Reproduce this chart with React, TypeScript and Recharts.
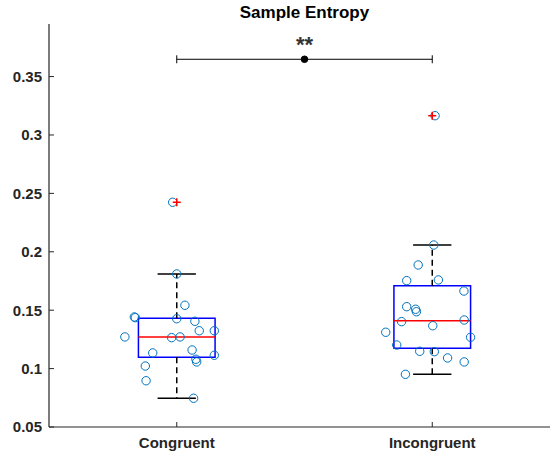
import React from 'react';
import {
  ComposedChart,
  XAxis,
  YAxis,
  Scatter,
  ReferenceArea,
  ReferenceLine,
  ReferenceDot,
} from 'recharts';

// ---- data -------------------------------------------------------------
const categories = ['Congruent', 'Incongruent'];

const congruentValues = [
  0.2424, 0.181, 0.1542, 0.1442, 0.1436, 0.1427, 0.1405, 0.1324, 0.1324, 0.1271,
  0.1265, 0.1271, 0.1134, 0.1159, 0.1114, 0.108, 0.1057, 0.1022, 0.0896, 0.0746,
];
// horizontal scatter offsets (category units)
const congruentJitter = [
  -0.016, 0.0, 0.032, -0.166, -0.162, 0.0, 0.071, 0.088, 0.147, -0.203,
  -0.02, 0.013, -0.094, 0.06, 0.147, 0.075, 0.078, -0.123, -0.12, 0.066,
];

const incongruentValues = [
  0.3165, 0.2058, 0.1887, 0.1753, 0.1759, 0.1664, 0.153, 0.1508, 0.1487, 0.1402,
  0.1416, 0.1367, 0.1311, 0.1268, 0.1202, 0.1148, 0.1145, 0.1091, 0.1057, 0.0951,
];
const incongruentJitter = [
  0.011, 0.006, -0.055, -0.1, 0.024, 0.124, -0.1, -0.065, -0.062, -0.12,
  0.125, 0.002, -0.182, 0.15, -0.139, -0.049, 0.008, 0.06, 0.125, -0.105,
];

const yTicks = [0.05, 0.1, 0.15, 0.2, 0.25, 0.3, 0.35];
const yDomain: [number, number] = [0.05, 0.395];

const sigLevel = 0.3648;
const sigLabel = '**';

// ---- styling ----------------------------------------------------------
const FONT = '"Liberation Sans", Arial, Helvetica, sans-serif';
const AXIS_COLOR = '#262626';
const BOX_HALF = 0.15;
const CAP_HALF = 0.075;
const SIG_CAP = 0.0034;

// MATLAB-style percentile (linear interpolation on n*p + 0.5)
function percentile(sorted: number[], p: number): number {
  const n = sorted.length;
  const pos = n * p + 0.5;
  if (pos <= 1) return sorted[0];
  if (pos >= n) return sorted[n - 1];
  const lo = Math.floor(pos);
  const frac = pos - lo;
  return sorted[lo - 1] + frac * (sorted[lo] - sorted[lo - 1]);
}

function boxStats(values: number[]) {
  const s = [...values].sort((a, b) => a - b);
  const q1 = percentile(s, 0.25);
  const med = percentile(s, 0.5);
  const q3 = percentile(s, 0.75);
  const iqr = q3 - q1;
  const inside = s.filter((v) => v >= q1 - 1.5 * iqr && v <= q3 + 1.5 * iqr);
  return {
    q1,
    med,
    q3,
    lo: inside[0],
    hi: inside[inside.length - 1],
    outliers: s.filter((v) => v < q1 - 1.5 * iqr || v > q3 + 1.5 * iqr),
  };
}

const groups = [
  { pos: 1, values: congruentValues, jitter: congruentJitter },
  { pos: 2, values: incongruentValues, jitter: incongruentJitter },
].map((g) => ({ ...g, stats: boxStats(g.values) }));

const points = groups.flatMap((g) =>
  g.values.map((v, i) => ({ x: g.pos + g.jitter[i], y: v }))
);
const outlierPoints = groups.flatMap((g) =>
  g.stats.outliers.map((v) => ({ x: g.pos, y: v }))
);

const CircleMarker = (props: any) => (
  <circle cx={props.cx} cy={props.cy} r={4.2} fill="none" stroke="#0072BD" strokeWidth={1} />
);

const PlusMarker = (props: any) => {
  const { cx, cy } = props;
  return (
    <g stroke="#FF0000" strokeWidth={1.5}>
      <line x1={cx - 4} y1={cy} x2={cx + 4} y2={cy} />
      <line x1={cx} y1={cy - 4} x2={cx} y2={cy + 4} />
    </g>
  );
};

const tickStyle = { fill: AXIS_COLOR, fontSize: 15, fontWeight: 'bold' as const, fontFamily: FONT };

export default function App() {
  const boxes = groups.map((g) => (
    <ReferenceArea
      key={`box-${g.pos}`}
      x1={g.pos - BOX_HALF}
      x2={g.pos + BOX_HALF}
      y1={g.stats.q1}
      y2={g.stats.q3}
      fill="none"
      fillOpacity={0}
      stroke="#0000FF"
      strokeWidth={1.5}
      isFront
    />
  ));
  const medians = groups.map((g) => (
    <ReferenceLine
      key={`med-${g.pos}`}
      segment={[
        { x: g.pos - BOX_HALF, y: g.stats.med },
        { x: g.pos + BOX_HALF, y: g.stats.med },
      ]}
      stroke="#FF0000"
      strokeWidth={1.5}
    />
  ));
  const whiskers = groups.flatMap((g) => [
    <ReferenceLine
      key={`wu-${g.pos}`}
      segment={[
        { x: g.pos, y: g.stats.q3 },
        { x: g.pos, y: g.stats.hi },
      ]}
      stroke="#000"
      strokeWidth={1.5}
      strokeDasharray="6 4"
    />,
    <ReferenceLine
      key={`wl-${g.pos}`}
      segment={[
        { x: g.pos, y: g.stats.q1 },
        { x: g.pos, y: g.stats.lo },
      ]}
      stroke="#000"
      strokeWidth={1.5}
      strokeDasharray="6 4"
    />,
    <ReferenceLine
      key={`cu-${g.pos}`}
      segment={[
        { x: g.pos - CAP_HALF, y: g.stats.hi },
        { x: g.pos + CAP_HALF, y: g.stats.hi },
      ]}
      stroke="#000"
      strokeWidth={1.5}
    />,
    <ReferenceLine
      key={`cl-${g.pos}`}
      segment={[
        { x: g.pos - CAP_HALF, y: g.stats.lo },
        { x: g.pos + CAP_HALF, y: g.stats.lo },
      ]}
      stroke="#000"
      strokeWidth={1.5}
    />,
  ]);

  return (
    <div style={{ position: 'fixed', left: 0, top: 0, width: 550, height: 457, overflow: 'hidden', background: '#fff' }}>
      <ComposedChart width={560} height={457} margin={{ top: 24, right: 0, bottom: 0, left: 0 }}>
        <XAxis
          type="number"
          dataKey="x"
          domain={[0.5, 2.5]}
          ticks={[1, 2]}
          allowDataOverflow
          height={30}
          tickFormatter={(v: number) => categories[Math.round(v) - 1]}
          tick={tickStyle}
          tickSize={-5}
          tickMargin={15}
          stroke={AXIS_COLOR}
          axisLine={{ stroke: AXIS_COLOR, strokeWidth: 1.2 }}
          tickLine={{ stroke: AXIS_COLOR }}
        />
        <XAxis
          xAxisId="top"
          orientation="top"
          type="number"
          dataKey="x"
          domain={[0.5, 2.5]}
          ticks={[1, 2]}
          allowDataOverflow
          height={0}
          tick={false}
          tickSize={-5}
          axisLine={{ stroke: AXIS_COLOR, strokeWidth: 1.2 }}
          tickLine={{ stroke: AXIS_COLOR }}
        />
        <YAxis
          type="number"
          dataKey="y"
          domain={yDomain}
          ticks={yTicks}
          allowDataOverflow
          width={49}
          tickFormatter={(v: number) => String(v)}
          tick={tickStyle}
          tickSize={-5}
          tickMargin={12}
          axisLine={{ stroke: AXIS_COLOR, strokeWidth: 1.2 }}
          tickLine={{ stroke: AXIS_COLOR }}
        />

        <Scatter data={points} shape={CircleMarker} isAnimationActive={false} />

        {boxes}
        {whiskers}
        {medians}

        <Scatter data={outlierPoints} shape={PlusMarker} isAnimationActive={false} />

        <ReferenceLine
          segment={[
            { x: 1, y: sigLevel },
            { x: 2, y: sigLevel },
          ]}
          stroke="#000"
          strokeWidth={1}
        />
        <ReferenceLine
          segment={[
            { x: 1, y: sigLevel - SIG_CAP },
            { x: 1, y: sigLevel + SIG_CAP },
          ]}
          stroke="#000"
          strokeWidth={1}
        />
        <ReferenceLine
          segment={[
            { x: 2, y: sigLevel - SIG_CAP },
            { x: 2, y: sigLevel + SIG_CAP },
          ]}
          stroke="#000"
          strokeWidth={1}
        />
        <ReferenceDot
          x={1.5}
          y={sigLevel}
          r={3.3}
          fill="#000"
          stroke="#000"
          label={{
            value: sigLabel,
            position: 'top',
            offset: 4,
            fill: '#333',
            fontSize: 22,
            fontWeight: 'bold',
            fontFamily: FONT,
          }}
        />
      </ComposedChart>
      <svg width={550} height={24} style={{ position: 'absolute', left: 0, top: 0 }}>
        <text
          x={304.5}
          y={17.5}
          textAnchor="middle"
          fontFamily={FONT}
          fontWeight="bold"
          fontSize={17}
          fill="#000"
        >
          Sample Entropy
        </text>
      </svg>
    </div>
  );
}
